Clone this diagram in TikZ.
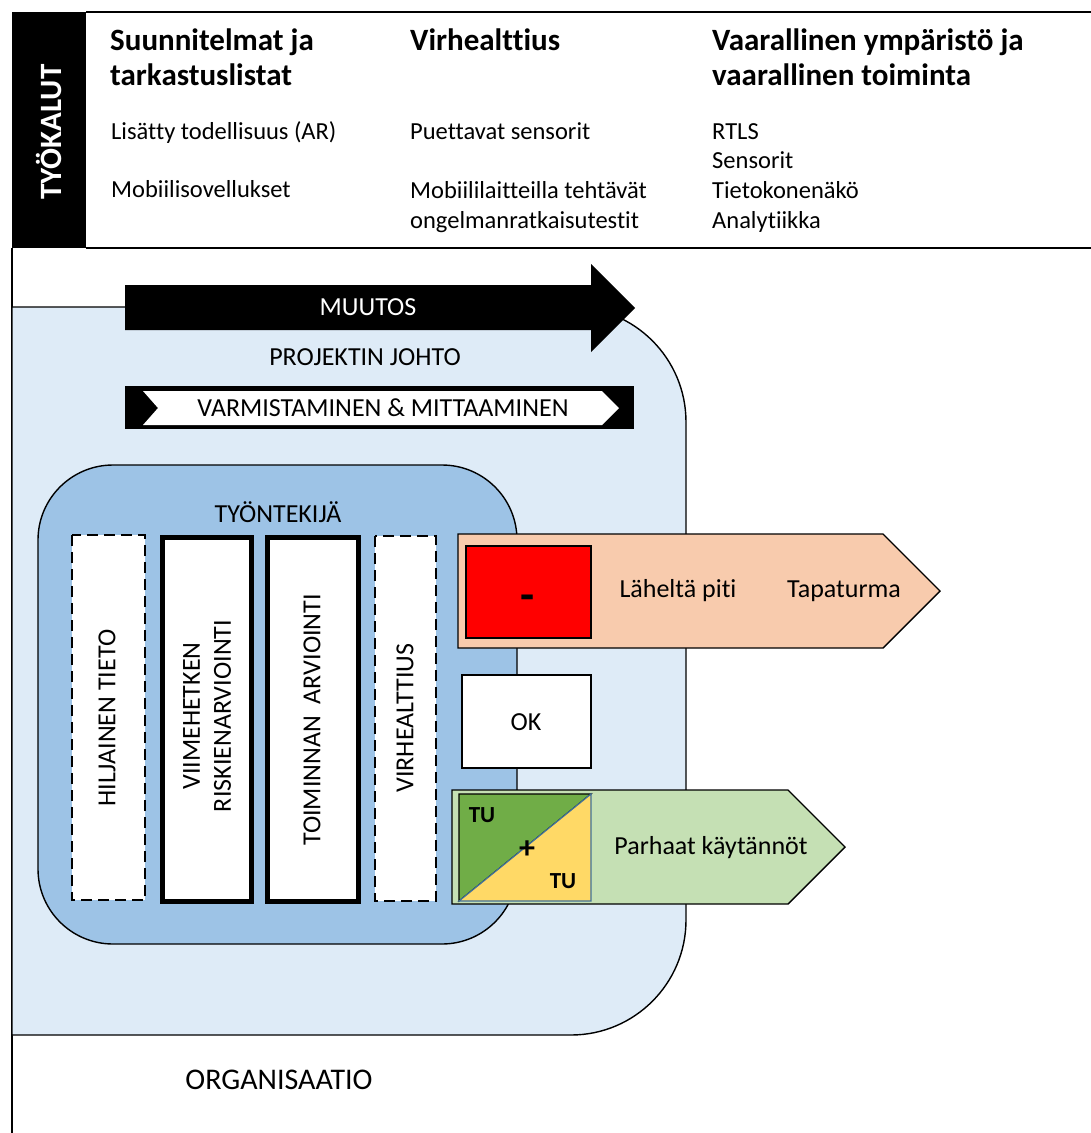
\documentclass[tikz,border=0pt]{standalone}
\usepackage{fontspec}
\setmainfont[Ligatures=NoCommon]{Carlito}
\definecolor{orgblue}{HTML}{DEEBF7}
\definecolor{workblue}{HTML}{9DC3E6}
\definecolor{riskorange}{HTML}{F8CBAD}
\definecolor{riskred}{HTML}{FF0000}
\definecolor{goodgreen}{HTML}{C5E0B4}
\definecolor{darkgreen}{HTML}{70AD47}
\definecolor{tuyellow}{HTML}{FFD966}
\definecolor{diagblue}{HTML}{41719C}
\begin{document}
\begin{tikzpicture}[x=1pt,y=-1pt,
  thin line/.style={draw=black, line width=1.4pt},
  head/.style={font=\bfseries\fontsize{31}{35}\selectfont, inner sep=0pt, anchor=base west},
  body/.style={font=\fontsize{24.5}{30}\selectfont, inner sep=0pt, anchor=base west},
  lbl/.style={font=\fontsize{26}{31}\selectfont, inner sep=0pt, align=center},
  dashcol/.style={fill=white, draw=black, line width=2pt, dash pattern=on 11pt off 6pt},
  thickcol/.style={fill=white, draw=black, line width=5pt},
  tu/.style={font=\bfseries\fontsize{23}{27}\selectfont, inner sep=0pt}]

\useasboundingbox (0,0) rectangle (1091,1133);
\fill[white] (0,0) rectangle (1091,1133);

% ---- tools panel ----
\fill[black] (12,12) rectangle (86,248);
\draw[line width=2pt] (86,12) -- (1091,12);
\draw[line width=2pt] (86,248) -- (1091,248);
\node[rotate=90, text=white, font=\bfseries\fontsize{31}{36}\selectfont, inner sep=0pt] (tools) at (49,132) {TYÖKALUT};

\node[head] (h1a) at (110,50) {Suunnitelmat ja};
\node[head] (h1b) at (110,85) {tarkastuslistat};
\node[head] (h2a) at (410,50) {Virhealttius};
\node[head] (h3a) at (712,50) {Vaarallinen ympäristö ja};
\node[head] (h3b) at (712,85) {vaarallinen toiminta};

\node[body] (t1a) at (111,139) {Lisätty todellisuus (AR)};
\node[body] (t1b) at (111,197) {Mobiilisovellukset};
\node[body] (t2a) at (410,139) {Puettavat sensorit};
\node[body] (t2b) at (410,198) {Mobiililaitteilla tehtävät};
\node[body] (t2c) at (410,228) {ongelmanratkaisutestit};
\node[body] (t3a) at (712,139) {RTLS};
\node[body] (t3b) at (712,168) {Sensorit};
\node[body] (t3c) at (712,198) {Tietokonenäkö};
\node[body] (t3d) at (712,228) {Analytiikka};

% ---- organisation frame ----
\draw[thin line] (12,248) -- (12,1133);
\filldraw[fill=orgblue, thin line] (12,1035) -- (12,307) -- (300,307)
  [rounded corners=115pt] -- (686,307) -- (686,1035) -- (300,1035)
  [sharp corners] -- cycle;
\node[font=\fontsize{30}{36}\selectfont, inner sep=0pt] (org) at (279,1080) {ORGANISAATIO};

% ---- change arrow ----
\fill[black] (125,285) -- (591,285) -- (591,264) -- (635,308) -- (591,352)
  -- (591,330) -- (125,330) -- cycle;
\node[lbl, text=white] (change) at (368,307) {MUUTOS};

\node[lbl] (mgmt) at (365,357) {PROJEKTIN JOHTO};

% ---- assurance bar ----
\fill[black] (125,386) rectangle (634,429);
\fill[white] (143,391) -- (602,391) -- (619,408) -- (602,425) -- (143,425)
  -- (158,408) -- cycle;
\node[lbl] (assure) at (383,408) {VARMISTAMINEN \& MITTAAMINEN};

% ---- worker box ----
\filldraw[fill=workblue, thin line, rounded corners=75pt] (38,465) rectangle (517,944);
\node[lbl] (worker) at (278,512) {TYÖNTEKIJÄ};

\filldraw[dashcol] (72,535) rectangle (145,900);
\filldraw[thickcol] (162.5,537.5) rectangle (251.5,901.5);
\filldraw[thickcol] (267.5,537.5) rectangle (358.5,901.5);
\filldraw[dashcol] (375,536) rectangle (436,901);

\node[lbl, rotate=90] (tacit) at (107,718) {HILJAINEN TIETO};
\node[lbl, rotate=90] (lastmin) at (207,716) {VIIMEHETKEN\\RISKIENARVIOINTI};
\node[lbl, rotate=90] (opeval) at (312,720) {TOIMINNAN\ \ ARVIOINTI};
\node[lbl, rotate=90] (errprone) at (405,718) {VIRHEALTTIUS};

% ---- negative outcome arrow ----
\filldraw[fill=riskorange, thin line] (458,534) -- (883,534) -- (940,591)
  -- (883,648) -- (458,648) -- cycle;
\filldraw[fill=riskred, thin line] (466,546) rectangle (591,638);
\node[font=\bfseries\fontsize{46}{46}\selectfont, inner sep=0pt] (minus) at (528,603) {-};
\node[lbl] (nearmiss) at (678,591) {Läheltä piti};
\node[lbl] (accident) at (844,591) {Tapaturma};

% ---- neutral outcome ----
\filldraw[fill=white, thin line] (462,675) rectangle (591,768);
\node[lbl] (ok) at (526,722) {OK};

% ---- positive outcome arrow ----
\filldraw[fill=goodgreen, thin line] (452,790) -- (788,790) -- (845,847)
  -- (788,904) -- (452,904) -- cycle;
\filldraw[fill=darkgreen, draw=black, line width=1.2pt] (459,901) -- (459,794) -- (591,794) -- cycle;
\filldraw[fill=tuyellow, draw=diagblue, line width=1.2pt] (459,901) -- (591,794) -- (591,901) -- cycle;
\node[tu] (tu1) at (482,815) {TU};
\node[tu] (tu2) at (563,881) {TU};
\node[font=\bfseries\fontsize{32}{32}\selectfont, inner sep=0pt] (plus) at (527,850) {+};
\node[lbl] (best) at (711,848) {Parhaat käytännöt};

\end{tikzpicture}
\end{document}
